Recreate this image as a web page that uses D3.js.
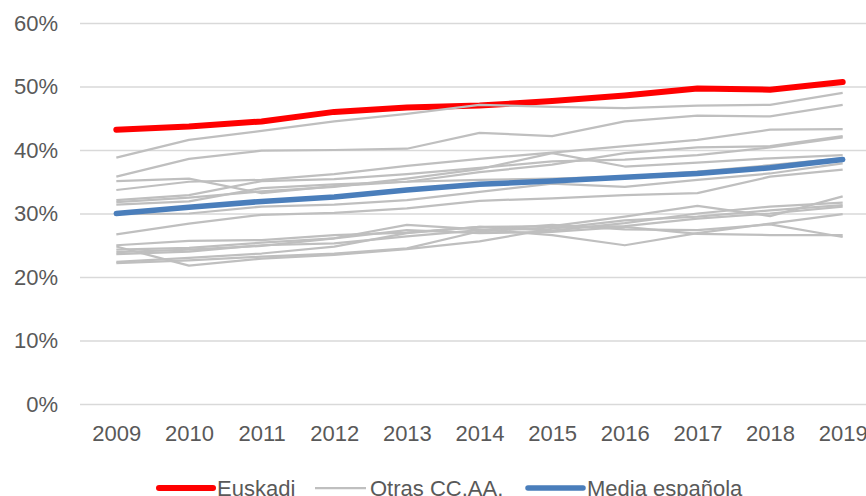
<!DOCTYPE html>
<html lang="es">
	<head>
		<meta charset="utf-8">
		<title>Euskadi vs otras CC.AA.</title>
		<script type="text/javascript" src="https://cdn.jsdelivr.net/npm/d3@7"></script>
		<style>
			body { margin: 0; background: #ffffff; }
			svg text { font-family: "Liberation Sans", Arial, sans-serif; fill: #595959; }
		</style>
	</head>
	<body>
		<div class="visualization"></div>

		<script type="text/javascript">
			// Data
			var years = ["2009", "2010", "2011", "2012", "2013", "2014", "2015", "2016", "2017", "2018", "2019"];
			var yTicks = [0, 10, 20, 30, 40, 50, 60];

			var euskadi = [43.2, 43.7, 44.5, 46.0, 46.7, 47.0, 47.7, 48.6, 49.7, 49.5, 50.7];
			var mediaEspanola = [30.0, 31.0, 31.9, 32.6, 33.7, 34.6, 35.1, 35.7, 36.3, 37.2, 38.5];

			// Otras CC.AA. (one array per region)
			var otras = [
				[38.8, 41.6, 43.0, 44.5, 45.7, 47.1, 46.8, 46.6, 47.0, 47.1, 49.0],
				[35.8, 38.6, 39.9, 40.0, 40.2, 42.7, 42.2, 44.5, 45.4, 45.3, 47.1],
				[33.7, 35.0, 35.3, 36.2, 37.5, 38.6, 39.6, 40.6, 41.6, 43.2, 43.3],
				[35.1, 35.5, 33.2, 34.3, 35.0, 36.5, 37.7, 39.5, 40.4, 40.6, 42.2],
				[32.1, 32.9, 35.1, 35.4, 36.2, 37.2, 38.2, 38.5, 39.2, 40.4, 42.0],
				[31.8, 32.5, 33.5, 34.2, 35.5, 37.0, 39.5, 37.4, 38.0, 38.7, 39.2],
				[31.4, 31.9, 34.0, 34.6, 35.0, 35.3, 35.5, 35.8, 36.6, 37.6, 38.7],
				[29.9, 30.0, 31.1, 31.4, 32.1, 33.4, 34.7, 34.2, 35.3, 36.3, 37.9],
				[26.7, 28.4, 29.8, 30.1, 30.8, 32.0, 32.4, 32.9, 33.2, 35.8, 36.9],
				[25.0, 25.7, 25.8, 26.6, 27.0, 27.9, 28.0, 29.5, 31.2, 29.6, 32.7],
				[22.4, 23.0, 23.7, 24.8, 26.9, 27.9, 27.3, 28.5, 30.0, 31.1, 31.7],
				[24.8, 21.8, 22.9, 23.5, 24.4, 25.6, 27.6, 28.9, 29.5, 30.5, 31.3],
				[22.2, 22.6, 23.2, 23.7, 24.5, 27.2, 27.8, 28.0, 29.2, 30.0, 31.1],
				[24.3, 24.6, 25.4, 26.1, 28.2, 27.5, 26.6, 25.0, 26.9, 28.4, 29.9],
				[23.6, 24.0, 25.0, 25.3, 26.4, 27.4, 28.2, 27.5, 27.4, 28.3, 26.3],
				[23.9, 24.3, 24.9, 26.1, 27.4, 26.9, 27.1, 27.9, 26.8, 26.6, 26.6]
			];

			var legendLabels = ["Euskadi", "Otras CC.AA.", "Media española"];
			var colors = ["#ff0000", "#bfbfbf", "#4a7ebb"];

			var Vis = {};
			Vis.width = 866;
			Vis.height = 496;
			Vis.left = 80;
			Vis.top = 23;
			Vis.bottom = 404;

			Vis.svg = d3.select(".visualization")
				.append("svg")
				.attr("width", Vis.width)
				.attr("height", Vis.height);

			Vis.xScale = d3.scalePoint()
				.domain(years)
				.range([Vis.left, 879])
				.padding(0.5);

			Vis.yScale = d3.scaleLinear()
				.domain([0, 60])
				.range([Vis.bottom, Vis.top]);

			// gridlines + y labels
			Vis.yAxis = d3.axisLeft(Vis.yScale)
				.tickValues(yTicks)
				.tickSize(-(Vis.width - Vis.left))
				.tickPadding(22)
				.tickFormat(d => d + "%");

			Vis.svg.append("g")
				.attr("transform", "translate(" + Vis.left + ",0)")
				.call(Vis.yAxis)
				.call(g => g.select(".domain").remove())
				.call(g => g.selectAll("line").attr("stroke", "#d9d9d9").attr("stroke-width", 1.5))
				.call(g => g.selectAll("text").style("font-size", "22px"));

			// x labels
			Vis.xAxis = d3.axisBottom(Vis.xScale)
				.tickSize(0)
				.tickPadding(21);

			Vis.svg.append("g")
				.attr("transform", "translate(0," + Vis.bottom + ")")
				.call(Vis.xAxis)
				.call(g => g.select(".domain").remove())
				.call(g => g.selectAll("text").style("font-size", "22px"));

			Vis.line = d3.line()
				.x((d, i) => Vis.xScale(years[i]))
				.y(d => Vis.yScale(d));

			Vis.svg.append("path")
				.datum(euskadi)
				.attr("d", Vis.line)
				.attr("fill", "none")
				.attr("stroke", colors[0])
				.attr("stroke-width", 6)
				.attr("stroke-linecap", "round")
				.attr("stroke-linejoin", "round");

			Vis.svg.selectAll(".otras")
				.data(otras)
				.enter()
				.append("path")
				.classed("otras", true)
				.attr("d", Vis.line)
				.attr("fill", "none")
				.attr("stroke", colors[1])
				.attr("stroke-width", 2.25)
				.attr("stroke-linejoin", "round");

			Vis.svg.append("path")
				.datum(mediaEspanola)
				.attr("d", Vis.line)
				.attr("fill", "none")
				.attr("stroke", colors[2])
				.attr("stroke-width", 5.5)
				.attr("stroke-linecap", "round")
				.attr("stroke-linejoin", "round");

			// legend
			Vis.legendX = [159, 315, 528];
			Vis.legendW = [54, 51, 55];
			Vis.legendStroke = [6, 2.25, 5.5];
			Vis.legend = Vis.svg.append("g").attr("transform", "translate(0,488)");

			legendLabels.forEach(function(label, i) {
				Vis.legend.append("line")
					.attr("x1", Vis.legendX[i])
					.attr("x2", Vis.legendX[i] + Vis.legendW[i])
					.attr("stroke", colors[i])
					.attr("stroke-width", Vis.legendStroke[i])
					.attr("stroke-linecap", i == 1 ? "butt" : "round");
				Vis.legend.append("text")
					.attr("x", Vis.legendX[i] + Vis.legendW[i] + 4)
					.attr("y", 8)
					.style("font-size", "22px")
					.text(label);
			});
		</script>
	</body>
</html>
